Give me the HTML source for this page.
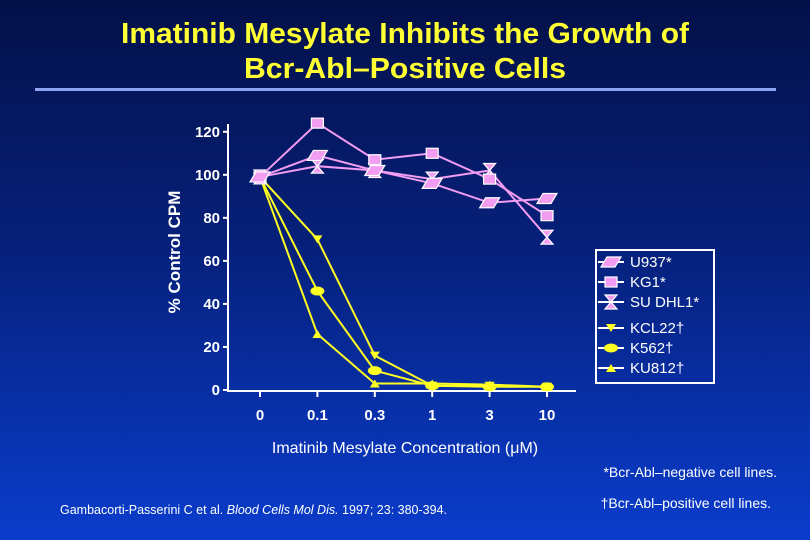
<!DOCTYPE html>
<html><head><meta charset="utf-8"><style>
html,body{margin:0;padding:0;width:810px;height:540px;overflow:hidden}
body{background:linear-gradient(#041048 0%,#06207a 45%,#0a3ccc 100%);font-family:"Liberation Sans",sans-serif}
svg{display:block}
</style></head><body>
<svg id="chart" width="810" height="540" xmlns="http://www.w3.org/2000/svg" font-family="Liberation Sans, sans-serif">
<g fill="#ffff33" font-weight="bold" font-size="29" text-anchor="middle">
<text x="405" y="43" textLength="568" lengthAdjust="spacingAndGlyphs">Imatinib Mesylate Inhibits the Growth of</text>
<text x="405" y="78" textLength="322" lengthAdjust="spacingAndGlyphs">Bcr-Abl–Positive Cells</text>
</g>
<rect x="35" y="88" width="741" height="3" fill="#8ea4f2"/>
<g id="plot"></g>
<text transform="translate(180,252) rotate(-90)" fill="#fff" font-weight="bold" font-size="17" text-anchor="middle">% Control CPM</text>
<text x="405" y="453" fill="#fff" font-size="16" text-anchor="middle">Imatinib Mesylate Concentration (μM)</text>
<g>
<rect x="596" y="250" width="118" height="133" fill="none" stroke="#fff" stroke-width="2"/>
<g id="legend-items" fill="#fff" font-size="15"></g>
</g>
<text x="777" y="477" fill="#fff" font-size="14" text-anchor="end">*Bcr-Abl–negative cell lines.</text>
<text x="771" y="508" fill="#fff" font-size="14" text-anchor="end">†Bcr-Abl–positive cell lines.</text>
<text x="60" y="514" fill="#fff" font-size="12.5">Gambacorti-Passerini C et al.  <tspan font-style="italic">Blood Cells Mol Dis.</tspan>  1997; 23: 380-394.</text>
</svg>
<script>
const categories = ["0","0.1","0.3","1","3","10"];
const yTicks = [0,20,40,60,80,100,120];
const u937 = [99,109,102,96,87,89];
const kg1 = [99,124,107,110,98,81];
const suDhl1 = [99,104,102,98,102,71];
const kcl22 = [99,70,16,2,2,1.5];
const k562 = [99,46,9,2,1.5,1.5];
const ku812 = [99,26,3,3,2.5,1.5];
const seriesNames = ["U937*","KG1*","SU DHL1*","KCL22†","K562†","KU812†"];

const NS="http://www.w3.org/2000/svg";
const plot=document.getElementById('plot');
const xS=i=>260+i*57.4;
const yS=v=>390-v*2.152;
function mk(tag,attrs,parent){const e=document.createElementNS(NS,tag);for(const k in attrs)e.setAttribute(k,attrs[k]);(parent||plot).appendChild(e);return e;}

let ax=mk('line',{x1:228,y1:124,x2:228,y2:392,stroke:'#fff','stroke-width':2});


let bx=mk('line',{x1:227,y1:391,x2:576,y2:391,stroke:'#fff','stroke-width':2});


yTicks.forEach(t=>{
  mk('line',{x1:223,y1:yS(t),x2:228,y2:yS(t),stroke:'#fff','stroke-width':2});
  const tx=mk('text',{x:220,y:yS(t)+5,fill:'#fff','font-size':15,'font-weight':'bold','text-anchor':'end'});
  tx.textContent=t;
  
  
});
categories.forEach((c,i)=>{
  mk('line',{x1:xS(i),y1:391,x2:xS(i),y2:397,stroke:'#fff','stroke-width':2});
  const tx=mk('text',{x:xS(i),y:420,fill:'#fff','font-size':15,'font-weight':'bold','text-anchor':'middle'});
  tx.textContent=c;
  
  
});

const PINK='#f29cf2',YEL='#ffff22';
function marker(type,x,y,g){
  const st={fill:type<3?PINK:YEL,stroke:type<3?'#fff':'none','stroke-width':1.2};
  let e;
  if(type===0) e=mk('polygon',Object.assign({points:`${x-10},${y+5} ${x-4},${y-5} ${x+10},${y-5} ${x+4},${y+5}`},st),g);
  else if(type===1) e=mk('rect',Object.assign({x:x-6,y:y-5,width:12,height:10},st),g);
  else if(type===2) e=mk('polygon',Object.assign({points:`${x-6},${y-7} ${x+6},${y-7} ${x-6},${y+7} ${x+6},${y+7}`},st),g);
  else if(type===3) e=mk('polygon',Object.assign({points:`${x-5},${y-4} ${x+5},${y-4} ${x},${y+4}`},st),g);
  else if(type===4) e=mk('ellipse',Object.assign({cx:x,cy:y,rx:7,ry:4.5},st),g);
  else e=mk('polygon',Object.assign({points:`${x-5},${y+4} ${x+5},${y+4} ${x},${y-4}`},st),g);
  return e;
}
const all=[u937,kg1,suDhl1,kcl22,k562,ku812];
const slugs=['u937','kg1','su-dhl1','kcl22','k562','ku812'];
const order=[5,4,3,2,1,0];
order.forEach(k=>{
  const s=all[k];
  const g=mk('g',{});
  
  
  const pts=s.map((v,i)=>xS(i)+','+yS(v)).join(' ');
  mk('polyline',{points:pts,fill:'none',stroke:k<3?PINK:YEL,'stroke-width':2},g);
  s.forEach((v,i)=>{const m=marker(k,xS(i),yS(v),g);
    
    });
});
const lg=document.getElementById('legend-items');
const ly=[262,282,302,328,348,368];
seriesNames.forEach((n,k)=>{
  const g=mk('g',{},lg);
  
  
  mk('line',{x1:598,y1:ly[k],x2:624,y2:ly[k],stroke:'#fff','stroke-width':2},g);
  marker(k,611,ly[k],g);
  const t=mk('text',{x:630,y:ly[k]+5,fill:'#fff','font-size':15},g);
  t.textContent=n;
});
</script>
</body></html>
